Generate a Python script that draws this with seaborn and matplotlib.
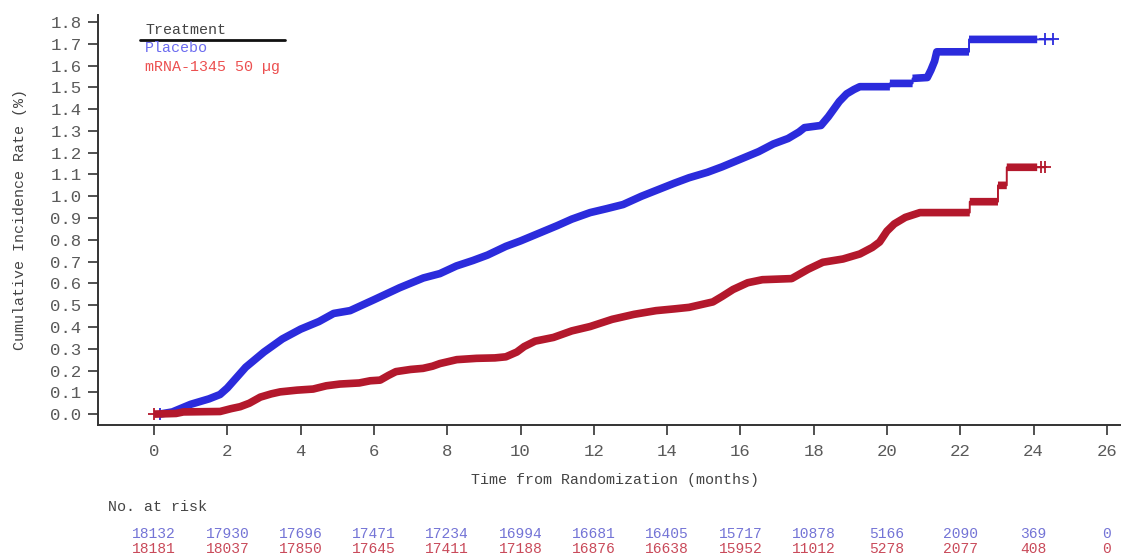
import numpy as np
import pandas as pd
import matplotlib
matplotlib.use("Agg")
import matplotlib.pyplot as plt
from matplotlib.lines import Line2D
import seaborn as sns

# ---- Kaplan-Meier style cumulative incidence (%) ----
# Curve outlines as (time, rate) vertices; a repeated time marks a vertical jump.
groups = ["Placebo", "mRNA-1345 50 \u00b5g"]

placebo_time = [0.15, 0.5, 1.0, 1.5, 1.8, 2.0, 2.5, 3.0, 3.5, 4.0, 4.5, 4.9, 5.35,
                6.0, 6.7, 7.35, 7.8, 8.25, 8.7, 9.1, 9.6, 10.0, 10.5, 11.0, 11.4,
                11.9, 12.35, 12.8, 13.3, 13.75, 14.2, 14.6, 15.1, 15.5, 16.0, 16.5,
                16.9, 17.3, 17.6, 17.75, 18.2, 18.4, 18.55, 18.7, 18.9, 19.1, 19.26,
                20.08, 20.08, 20.7, 20.7, 21.1, 21.2, 21.3, 21.36, 22.24, 22.24, 24.1]
placebo_rate = [0.0, 0.01, 0.045, 0.07, 0.09, 0.12, 0.215, 0.285, 0.345, 0.39, 0.425,
                0.462, 0.475, 0.525, 0.58, 0.625, 0.645, 0.68, 0.705, 0.73, 0.77,
                0.795, 0.83, 0.865, 0.895, 0.925, 0.943, 0.962, 1.0, 1.03, 1.06,
                1.085, 1.11, 1.135, 1.17, 1.205, 1.24, 1.265, 1.295, 1.315, 1.325,
                1.365, 1.40, 1.435, 1.47, 1.49, 1.503, 1.503, 1.518, 1.518, 1.541,
                1.545, 1.579, 1.62, 1.663, 1.663, 1.72, 1.72]
placebo_censor = [24.31, 24.53]

vaccine_time = [0.0, 0.6, 0.8, 1.8, 2.1, 2.35, 2.6, 2.9, 3.2, 3.44, 3.9, 4.34, 4.7,
                5.07, 5.6, 5.9, 6.17, 6.4, 6.6, 7.0, 7.34, 7.6, 7.8, 8.26, 8.8, 9.3,
                9.6, 9.9, 10.1, 10.4, 10.9, 11.4, 11.9, 12.5, 13.1, 13.7, 14.2, 14.6,
                15.25, 15.5, 15.8, 16.2, 16.6, 17.4, 17.85, 18.25, 18.8, 19.26, 19.6,
                19.8, 20.0, 20.2, 20.5, 20.9, 22.26, 22.26, 23.03, 23.03, 23.27,
                23.27, 24.1]
vaccine_rate = [0.0, 0.003, 0.01, 0.012, 0.025, 0.034, 0.05, 0.078, 0.093, 0.102,
                0.11, 0.115, 0.13, 0.138, 0.143, 0.153, 0.156, 0.178, 0.195, 0.205,
                0.21, 0.22, 0.232, 0.25, 0.256, 0.258, 0.263, 0.285, 0.31, 0.335,
                0.352, 0.382, 0.402, 0.435, 0.458, 0.475, 0.483, 0.49, 0.515, 0.54,
                0.572, 0.603, 0.617, 0.622, 0.665, 0.697, 0.712, 0.735, 0.765, 0.79,
                0.84, 0.873, 0.903, 0.925, 0.925, 0.975, 0.975, 1.05, 1.05, 1.133,
                1.133]
vaccine_censor = [24.2, 24.3]

# ---- number at risk table ----
risk_months = list(range(0, 27, 2))
placebo_at_risk = [18132, 17930, 17696, 17471, 17234, 16994, 16681, 16405, 15717,
                   10878, 5166, 2090, 369, 0]
vaccine_at_risk = [18181, 18037, 17850, 17645, 17411, 17188, 16876, 16638, 15952,
                   11012, 5278, 2077, 408, 0]

curve_colors = {groups[0]: "#2b2bdc", groups[1]: "#b3182c"}
legend_colors = {groups[0]: "#6b6bf0", groups[1]: "#ec5050"}
risk_colors = {groups[0]: "#7474d6", groups[1]: "#c94a5a"}

series = {
    groups[0]: (placebo_time, placebo_rate, placebo_censor),
    groups[1]: (vaccine_time, vaccine_rate, vaccine_censor),
}

rows = []
for g, (t, r, cens) in series.items():
    for ti, ri in zip(t, r):
        rows.append((g, ti, ri))
    for c in cens:
        rows.append((g, c, r[-1]))
df = pd.DataFrame(rows, columns=["group", "time", "rate"])

sns.set_theme(style="ticks")
plt.rcParams["font.family"] = ["Liberation Mono", "DejaVu Sans Mono"]

fig = plt.figure(figsize=(11.22, 5.55), dpi=100)
ax = fig.add_axes([98 / 1122, 1 - 425 / 555, 1022 / 1122, 410 / 555])

# thin outline of each curve, running out to the last censored subject
sns.lineplot(data=df, x="time", y="rate", hue="group", palette=curve_colors,
             estimator=None, sort=False, linewidth=1.4, legend=False, ax=ax)

# dense censoring marks render as a thick band; vertical jumps stay thin
for g, (t, r, cens) in series.items():
    bx, by = [t[0]], [r[0]]
    for i in range(1, len(t)):
        if t[i] == t[i - 1]:
            bx.append(np.nan)
            by.append(np.nan)
        bx.append(t[i])
        by.append(r[i])
    ax.plot(bx, by, color=curve_colors[g], linewidth=5.5,
            solid_capstyle="butt", solid_joinstyle="round")
    ax.plot(cens, [r[-1]] * len(cens), linestyle="none", marker="+",
            markersize=9, markeredgewidth=1.3, color=curve_colors[g])
    ax.plot([t[0]], [r[0]], linestyle="none", marker="+", markersize=9,
            markeredgewidth=1.3, color=curve_colors[g])

ax.set_xlim(-1.53, 26.36)
ax.set_ylim(-0.05, 1.832)
ax.set_xticks(risk_months)
ax.set_xticklabels([str(m) for m in risk_months])
yt = np.round(np.arange(0, 1.81, 0.1), 1)
ax.set_yticks(yt)
ax.set_yticklabels([f"{v:.1f}" for v in yt])
ax.tick_params(axis="both", direction="out", length=7, width=1.2, color="#333333",
               labelsize=12.5, labelcolor="#5a5a5a", pad=5)
ax.tick_params(axis="x", pad=7)
for s in ["top", "right"]:
    ax.spines[s].set_visible(False)
for s in ["left", "bottom"]:
    ax.spines[s].set_color("#333333")
    ax.spines[s].set_linewidth(1.4)
ax.set_xlabel("")
ax.set_ylabel("")

fig.text(615 / 1122, 1 - 480 / 555, "Time from Randomization (months)",
         ha="center", va="center", fontsize=10.8, color="#444444")
fig.text(20 / 1122, 1 - 220 / 555, "Cumulative Incidence Rate (%)", rotation=90,
         ha="center", va="center", fontsize=10.8, color="#444444")

# legend block
fig.text(145 / 1122, 1 - 30 / 555, "Treatment", ha="left", va="center",
         fontsize=10.8, color="#444444")
fig.add_artist(Line2D([140 / 1122, 285 / 1122], [1 - 40 / 555, 1 - 40 / 555],
                      transform=fig.transFigure, color="#111111", linewidth=2))
fig.text(145 / 1122, 1 - 48 / 555, groups[0], ha="left", va="center",
         fontsize=10.8, color=legend_colors[groups[0]])
fig.text(145 / 1122, 1 - 67 / 555, groups[1], ha="left", va="center",
         fontsize=10.8, color=legend_colors[groups[1]])

# number at risk
fig.text(108 / 1122, 1 - 507 / 555, "No. at risk", ha="left", va="center",
         fontsize=10.8, color="#444444")
trans = matplotlib.transforms.blended_transform_factory(ax.transData, fig.transFigure)
for m, b, v in zip(risk_months, placebo_at_risk, vaccine_at_risk):
    ax.text(m, 1 - 534 / 555, str(b), transform=trans, ha="center", va="center",
            fontsize=10.5, color=risk_colors[groups[0]], clip_on=False)
    ax.text(m, 1 - 549 / 555, str(v), transform=trans, ha="center", va="center",
            fontsize=10.5, color=risk_colors[groups[1]], clip_on=False)

fig.savefig("out.png", dpi=100, facecolor="white")
